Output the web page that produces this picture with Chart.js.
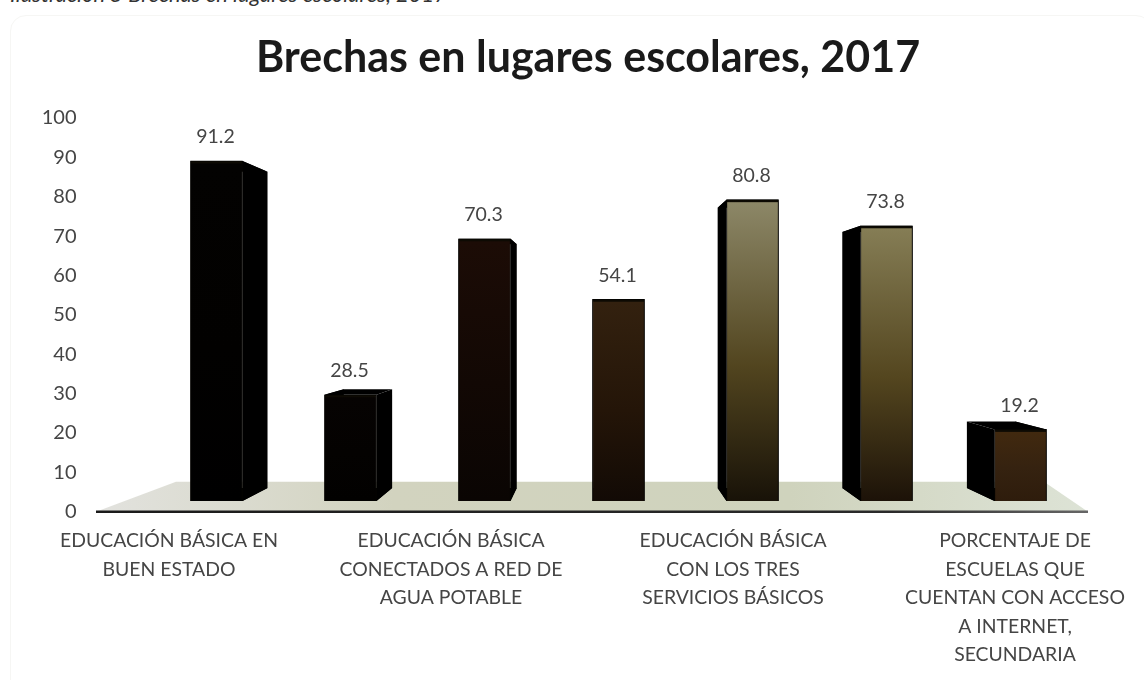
<!DOCTYPE html>
<html>

<head>
  <meta charset="utf-8">
  <script src="https://cdn.jsdelivr.net/npm/chart.js@4"></script>
  <style>
    body {
      margin: 0;
      background: #fff;
      overflow: hidden;
    }

    .wrap {
      position: relative;
      width: 1144px;
      height: 680px;
      overflow: hidden;
    }

    .caption {
      position: absolute;
      left: 10px;
      top: -20px;
      font: italic 22px Lato, sans-serif;
      color: #333;
      white-space: nowrap;
    }

    .card {
      position: absolute;
      left: 10px;
      top: 15px;
      width: 1140px;
      height: 680px;
      border: 1px solid #f6f6f4;
      border-radius: 16px;
    }

    canvas {
      position: absolute;
      left: 0;
      top: 0;
    }
  </style>
</head>

<body>
  <div class="wrap">
    <div class="caption">Ilustración 5 Brechas en lugares escolares, 2017</div>
    <div class="card"></div>
    <canvas id="myChart" width="1144" height="680"></canvas>
  </div>

  <script>
    const titleText = 'Brechas en lugares escolares, 2017';
    // only every other category name is printed under the axis
    const categoryLabels = [
      ['EDUCACIÓN BÁSICA EN', 'BUEN ESTADO'],
      '',
      ['EDUCACIÓN BÁSICA', 'CONECTADOS A RED DE', 'AGUA POTABLE'],
      '',
      ['EDUCACIÓN BÁSICA', 'CON LOS TRES', 'SERVICIOS BÁSICOS'],
      '',
      ['PORCENTAJE DE', 'ESCUELAS QUE', 'CUENTAN CON ACCESO', 'A INTERNET,', 'SECUNDARIA']
    ];
    const barValues = [91.2, 28.5, 70.3, 54.1, 80.8, 73.8, 19.2];
    const yTicks = [0, 10, 20, 30, 40, 50, 60, 70, 80, 90, 100];
    const faceTop = ['#030201', '#060302', '#1c0c06', '#33210f', '#8c8767', '#857d55', '#41290f'];
    const faceMid = ['#020100', '#040201', '#120804', '#241508', '#52451f', '#54461f', '#352210'];
    const faceBottom = ['#000000', '#020100', '#0a0503', '#120a05', '#181208', '#1c1208', '#2e1c0c'];

    // point the 3d effect recedes to, and how far the back of a bar shrinks
    const vanishX = 600;
    const vanishY = 315;
    const depth = 0.93;

    function toBack(x, y) {
      return [vanishX + (x - vanishX) * depth, vanishY + (y - vanishY) * depth];
    }

    const floorAndDepth = {
      id: 'floorAndDepth',
      afterLayout(chart) {
        // y tick labels get clipped to the axis box, the box is narrow so the title stays centred
        chart.scales.y.left = 0;
      },
      beforeDatasetsDraw(chart) {
        const c = chart.ctx;
        const bottom = chart.scales.y.getPixelForValue(0);

        // floor
        const floorGrad = c.createLinearGradient(96, 0, 1088, 0);
        floorGrad.addColorStop(0, '#e2e2de');
        floorGrad.addColorStop(0.3, '#d2d3bf');
        floorGrad.addColorStop(0.7, '#cfd3bd');
        floorGrad.addColorStop(1, '#dde3d6');
        c.fillStyle = floorGrad;
        c.beginPath();
        c.moveTo(96, bottom);
        c.lineTo(176, bottom - 30);
        c.lineTo(1044, bottom - 30);
        c.lineTo(1088, bottom);
        c.closePath();
        c.fill();

        // front edge of the floor
        const lineGrad = c.createLinearGradient(96, 0, 1088, 0);
        lineGrad.addColorStop(0, '#1a1a1a');
        lineGrad.addColorStop(0.8, '#2a2a2a');
        lineGrad.addColorStop(1, '#666');
        c.strokeStyle = lineGrad;
        c.lineWidth = 2.5;
        c.beginPath();
        c.moveTo(96, bottom);
        c.lineTo(1088, bottom);
        c.stroke();

        // sides of each bar, behind the front face
        c.fillStyle = '#000';
        chart.getDatasetMeta(0).data.forEach(bar => {
          const l = bar.x - bar.width / 2;
          const r = bar.x + bar.width / 2;
          const corners = [[l, bar.y], [r, bar.y], [r, bar.base], [l, bar.base]];
          corners.forEach((p, i) => {
            const q = corners[(i + 1) % 4];
            const pb = toBack(p[0], p[1]);
            const qb = toBack(q[0], q[1]);
            c.beginPath();
            c.moveTo(p[0], p[1]);
            c.lineTo(q[0], q[1]);
            c.lineTo(qb[0], qb[1]);
            c.lineTo(pb[0], pb[1]);
            c.closePath();
            c.fill();
          });
        });
      }
    };

    const valueLabels = {
      id: 'valueLabels',
      afterDatasetsDraw(chart) {
        const c = chart.ctx;
        c.save();
        c.font = '19.5px Lato';
        c.fillStyle = '#454545';
        c.textAlign = 'center';
        c.textBaseline = 'middle';
        chart.getDatasetMeta(0).data.forEach((bar, i) => {
          c.fillText(barValues[i].toFixed(1), bar.x - 1, bar.y - 24);
        });
        c.restore();
      }
    };

    new Chart(document.getElementById('myChart'), {
      type: 'bar',
      data: {
        datasets: [{
          data: barValues.map((v, i) => ({ x: i, y: v })),
          xAxisID: 'barX',
          yAxisID: 'barY',
          barThickness: 52,
          borderWidth: 1,
          borderColor: '#050401',
          backgroundColor(ctx) {
            const s = ctx.chart.scales.barY;
            const i = ctx.dataIndex;
            if (!s || i === undefined) return '#000';
            const y0 = s.getPixelForValue(barValues[i]);
            const y1 = s.getPixelForValue(0);
            if (!Number.isFinite(y0) || !Number.isFinite(y1)) return '#000';
            const g = ctx.chart.ctx.createLinearGradient(0, y0, 0, y1);
            // thin dark edge along the top of the face
            const edge = 2 / (y1 - y0);
            g.addColorStop(0, '#0d0a03');
            g.addColorStop(edge, '#0d0a03');
            g.addColorStop(edge * 1.5, faceTop[i]);
            g.addColorStop(0.55, faceMid[i]);
            g.addColorStop(1, faceBottom[i]);
            return g;
          }
        }]
      },
      options: {
        responsive: false,
        animation: false,
        layout: {
          padding: { left: 90.5, right: 58.5, top: 0, bottom: 0 }
        },
        plugins: {
          legend: { display: false },
          tooltip: { enabled: false },
          title: {
            display: true,
            text: titleText,
            color: '#1a1a1a',
            font: { family: 'Lato', size: 43, weight: 'bold', lineHeight: 1.2 },
            padding: { top: 32, bottom: 34.4 }
          }
        },
        scales: {
          // printed axes
          x: {
            type: 'category',
            labels: categoryLabels,
            offset: true,
            border: { display: false },
            grid: { display: false, drawTicks: false },
            ticks: {
              autoSkip: false,
              maxRotation: 0,
              padding: 15,
              color: '#454545',
              font: { family: 'Lato', size: 19.4, lineHeight: 1.47 }
            },
            afterFit(scale) {
              scale.height = 168.3;
              scale.paddingLeft = 0;
              scale.paddingRight = 0;
            }
          },
          y: {
            min: 0,
            max: 100,
            afterBuildTicks(scale) {
              scale.ticks = yTicks.map(v => ({ value: v }));
            },
            border: { display: false },
            grid: { display: false, drawTicks: false },
            ticks: {
              padding: 22,
              color: '#454545',
              font: { family: 'Lato', size: 20 }
            },
            afterFit(scale) {
              scale.width = 8;
            }
          },
          // the bar fronts sit forward on the floor, so they use their own hidden scales
          barX: {
            type: 'linear',
            display: false,
            offset: false,
            min: -0.8806,
            max: 6.485
          },
          barY: {
            display: false,
            min: -2.87,
            max: 102.7
          }
        }
      },
      plugins: [floorAndDepth, valueLabels]
    });
  </script>
</body>

</HTML>
